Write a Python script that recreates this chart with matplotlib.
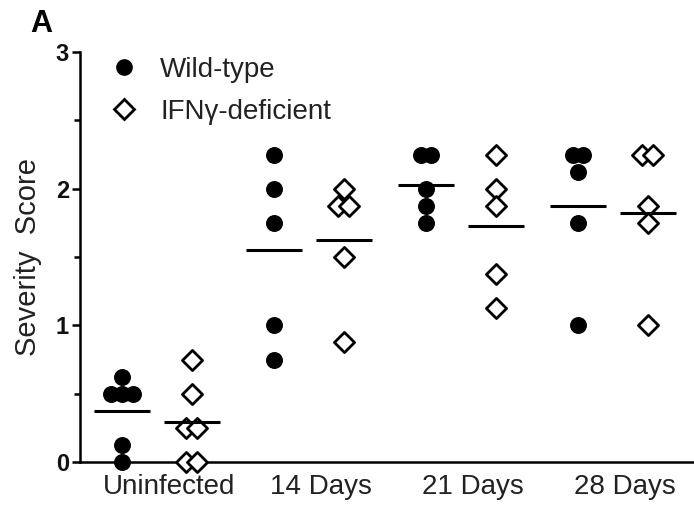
import matplotlib
matplotlib.use("Agg")
import matplotlib.pyplot as plt
import matplotlib.transforms as mtransforms
from matplotlib.lines import Line2D
import numpy as np

plt.rcParams['font.family'] = ['Liberation Sans', 'DejaVu Sans']

categories = ["Uninfected", "14 Days", "21 Days", "28 Days"]
wild_type = [
    [0.625, 0.5, 0.5, 0.5, 0.125, 0.0],
    [2.25, 2.0, 1.75, 1.0, 0.75],
    [2.25, 2.25, 2.0, 1.875, 1.75],
    [2.25, 2.25, 2.125, 1.75, 1.0],
]
ifng_deficient = [
    [0.75, 0.5, 0.25, 0.25, 0.0, 0.0],
    [2.0, 1.875, 1.875, 1.5, 0.875],
    [2.25, 2.0, 1.875, 1.375, 1.125],
    [2.25, 2.25, 1.875, 1.75, 1.0],
]
y_ticks = [0, 1, 2, 3]
series_labels = ["Wild-type", "IFN\u03b3-deficient"]

fig = plt.figure(figsize=(6.94, 5.08), dpi=100)
ax = fig.add_axes([80/694, 46/508, 614/694, 410/508])

pair_off = 0.23
dup_step = 0.072
half_len = 0.185


def spread(vals):
    vals = np.asarray(vals, float)
    offs = np.zeros(len(vals))
    for v in np.unique(vals):
        idx = np.where(vals == v)[0]
        n = len(idx)
        offs[idx] = (np.arange(n) - (n - 1) / 2) * dup_step
    return offs


for i, cat in enumerate(categories):
    for series, sign, style in [(wild_type[i], -1, 'wt'), (ifng_deficient[i], 1, 'ko')]:
        xc = i + sign * pair_off - 0.02
        xs = xc + spread(series)
        if style == 'wt':
            ax.scatter(xs, series, s=125, marker='o', color='black', zorder=3, clip_on=False)
        else:
            ax.scatter(xs, series, s=105, marker='D', facecolor='white', edgecolor='black',
                       linewidth=2.0, zorder=3, clip_on=False)
        m = np.mean(series)
        ax.plot([xc - half_len, xc + half_len], [m, m], color='black', lw=2.2, zorder=4,
                solid_capstyle='butt')

ax.set_xlim(-0.526, 3.513)
ax.set_ylim(0, 3)
ax.set_xticks(range(len(categories)))
ax.set_xticklabels(categories, fontsize=20, color='#222222')
ax.tick_params(axis='x', length=0, pad=9)
shift = mtransforms.ScaledTranslation(9/100, 0, fig.dpi_scale_trans)
for lab in ax.get_xticklabels():
    lab.set_transform(lab.get_transform() + shift)
ax.set_yticks(y_ticks)
ax.set_yticklabels([str(t) for t in y_ticks], fontsize=17, fontweight='bold', color='#111111')
ax.set_yticks([0.5, 1.5, 2.5], minor=True)
ax.tick_params(axis='y', which='major', length=6, width=1.8, pad=2)
ax.tick_params(axis='y', which='minor', length=4, width=1.8)

for s in ['top', 'right']:
    ax.spines[s].set_visible(False)
for s in ['left', 'bottom']:
    ax.spines[s].set_linewidth(1.8)

ax.set_ylabel("Severity  Score", fontsize=21, color='#222222', labelpad=10)

handles = [
    Line2D([], [], marker='o', linestyle='none', color='black', markersize=11),
    Line2D([], [], marker='D', linestyle='none', markerfacecolor='white',
           markeredgecolor='black', markeredgewidth=2.0, markersize=10),
]
ax.legend(handles, series_labels, loc='upper left', bbox_to_anchor=(-0.014, 1.05),
          frameon=False, fontsize=20, handletextpad=0.3, labelspacing=0.6,
          labelcolor='#222222')

fig.text(30/694, 1 - 32/508, "A", fontsize=22, fontweight='bold')

fig.savefig("out.png", dpi=100)
